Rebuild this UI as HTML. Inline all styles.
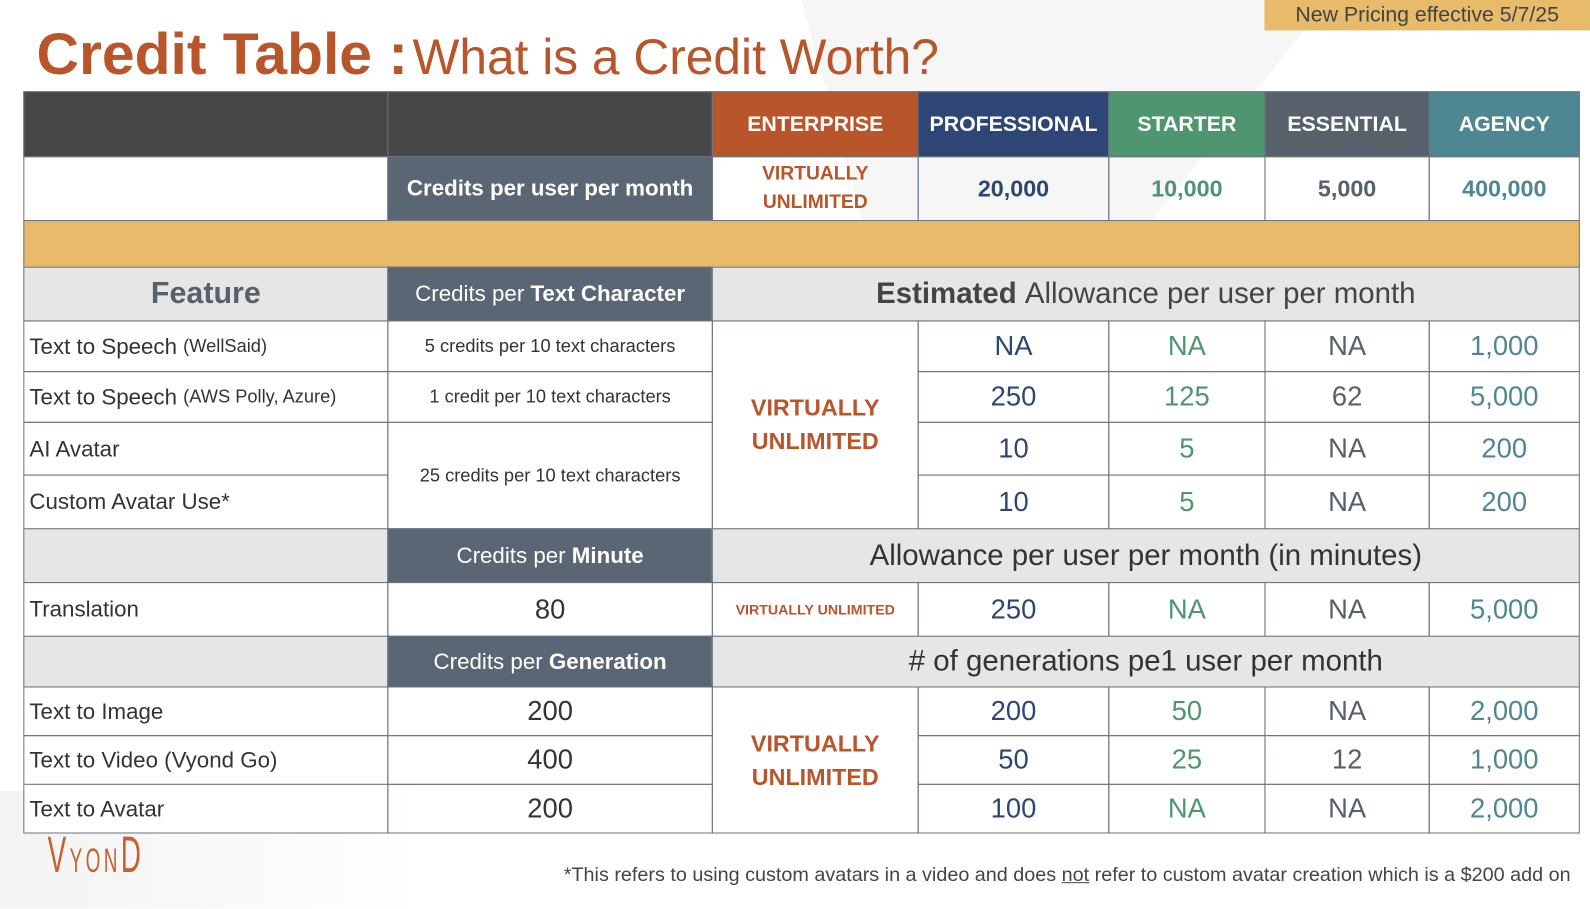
<!DOCTYPE html>
<html><head><meta charset="utf-8"><style>
body{margin:0;width:1590px;height:896px;background:#fff;position:relative;overflow:hidden;font-family:"Liberation Sans",Arial,sans-serif;}
#w{position:absolute;left:0;top:0;width:1568px;height:884px;transform:scale(1.014);transform-origin:0 0;}
.c{position:absolute;box-sizing:border-box;display:flex;align-items:center;justify-content:center;text-align:center;border:1px solid #69737d;}
.l{justify-content:flex-start;padding-left:5px;}
.h{color:#fff;font-weight:bold;font-size:21px;}
.g{background:#e6e6e6;}
.s{background:#5a6673;color:#fff;}
.bg{position:absolute;}
</style></head><body><div id="w">
<div class="bg" style="left:790px;top:0;width:520px;height:260px;background:#f6f6f6;clip-path:polygon(0 0,100% 0,60% 100%,14% 100%)"></div>
<div class="bg" style="left:0;top:780px;width:420px;height:116px;background:linear-gradient(90deg,#f3f3f3,#fff)"></div>
<div class="bg" style="left:1247px;top:0;width:321px;height:30px;background:#e8bb6a;color:#444;font-size:21px;line-height:29px;text-align:center;box-sizing:border-box">New Pricing effective 5/7/25</div>
<div class="bg" style="left:36px;top:20px;color:#b9552a;white-space:nowrap"><span style="font-size:58px;font-weight:bold">Credit Table :</span> <span style="font-size:49px">What is a Credit Worth?</span></div>

<div class="c" style="left:23px;top:90px;width:360px;height:65px;background:#474747"></div>
<div class="c" style="left:382px;top:90px;width:321px;height:65px;background:#474747"></div>
<div class="c h" style="left:702px;top:90px;width:204px;height:65px;background:#b9552a">ENTERPRISE</div>
<div class="c h" style="left:905px;top:90px;width:189px;height:65px;background:#2e4676">PROFESSIONAL</div>
<div class="c h" style="left:1093px;top:90px;width:155px;height:65px;background:#4e9670">STARTER</div>
<div class="c h" style="left:1247px;top:90px;width:163px;height:65px;background:#56616c">ESSENTIAL</div>
<div class="c h" style="left:1409px;top:90px;width:149px;height:65px;background:#4e8792">AGENCY</div>

<div class="c" style="left:23px;top:154px;width:360px;height:64px"></div>
<div class="c s" style="left:382px;top:154px;width:321px;height:64px;font-weight:bold;font-size:22px">Credits per user per month</div>
<div class="c" style="left:702px;top:154px;width:204px;height:64px;color:#b9552a;font-weight:bold;font-size:19px;line-height:28px">VIRTUALLY<br>UNLIMITED</div>
<div class="c" style="left:905px;top:154px;width:189px;height:64px;color:#2e4676;font-weight:bold;font-size:23px">20,000</div>
<div class="c" style="left:1093px;top:154px;width:155px;height:64px;color:#4e9670;font-weight:bold;font-size:23px">10,000</div>
<div class="c" style="left:1247px;top:154px;width:163px;height:64px;color:#56616c;font-weight:bold;font-size:23px">5,000</div>
<div class="c" style="left:1409px;top:154px;width:149px;height:64px;color:#4e8792;font-weight:bold;font-size:23px">400,000</div>

<div class="c" style="left:23px;top:217px;width:1535px;height:47px;background:#e8bb6a"></div>

<div class="c g" style="left:23px;top:263px;width:360px;height:54px;color:#56616c;font-weight:bold;font-size:30px">Feature</div>
<div class="c s" style="left:382px;top:263px;width:321px;height:54px;font-size:22px">Credits per&nbsp;<b>Text Character</b></div>
<div class="c g" style="left:702px;top:263px;width:856px;height:54px;color:#444;font-size:29px"><b>Estimated</b>&nbsp;Allowance per user per month</div>

<div class="c l" style="left:23px;top:316px;width:360px;height:51px;font-size:22px;color:#333">Text to Speech&nbsp;<span style="font-size:18px">(WellSaid)</span></div>
<div class="c l" style="left:23px;top:366px;width:360px;height:51px;font-size:22px;color:#333">Text to Speech&nbsp;<span style="font-size:18px">(AWS Polly, Azure)</span></div>
<div class="c l" style="left:23px;top:416px;width:360px;height:53px;font-size:22px;color:#333">AI Avatar</div>
<div class="c l" style="left:23px;top:468px;width:360px;height:54px;font-size:22px;color:#333">Custom Avatar Use*</div>
<div class="c" style="left:382px;top:316px;width:321px;height:51px;font-size:18px;color:#333">5 credits per 10 text characters</div>
<div class="c" style="left:382px;top:366px;width:321px;height:51px;font-size:18px;color:#333">1 credit per 10 text characters</div>
<div class="c" style="left:382px;top:416px;width:321px;height:106px;font-size:18px;color:#333">25 credits per 10 text characters</div>
<div class="c" style="left:702px;top:316px;width:204px;height:206px;color:#b9552a;font-weight:bold;font-size:23px;line-height:33px">VIRTUALLY<br>UNLIMITED</div>

<div class="c" style="left:905px;top:316px;width:189px;height:51px;font-size:27px;color:#2e4676">NA</div>
<div class="c" style="left:1093px;top:316px;width:155px;height:51px;font-size:27px;color:#4e9670">NA</div>
<div class="c" style="left:1247px;top:316px;width:163px;height:51px;font-size:27px;color:#56616c">NA</div>
<div class="c" style="left:1409px;top:316px;width:149px;height:51px;font-size:27px;color:#4e8792">1,000</div>
<div class="c" style="left:905px;top:366px;width:189px;height:51px;font-size:27px;color:#2e4676">250</div>
<div class="c" style="left:1093px;top:366px;width:155px;height:51px;font-size:27px;color:#4e9670">125</div>
<div class="c" style="left:1247px;top:366px;width:163px;height:51px;font-size:27px;color:#56616c">62</div>
<div class="c" style="left:1409px;top:366px;width:149px;height:51px;font-size:27px;color:#4e8792">5,000</div>
<div class="c" style="left:905px;top:416px;width:189px;height:53px;font-size:27px;color:#2e4676">10</div>
<div class="c" style="left:1093px;top:416px;width:155px;height:53px;font-size:27px;color:#4e9670">5</div>
<div class="c" style="left:1247px;top:416px;width:163px;height:53px;font-size:27px;color:#56616c">NA</div>
<div class="c" style="left:1409px;top:416px;width:149px;height:53px;font-size:27px;color:#4e8792">200</div>
<div class="c" style="left:905px;top:468px;width:189px;height:54px;font-size:27px;color:#2e4676">10</div>
<div class="c" style="left:1093px;top:468px;width:155px;height:54px;font-size:27px;color:#4e9670">5</div>
<div class="c" style="left:1247px;top:468px;width:163px;height:54px;font-size:27px;color:#56616c">NA</div>
<div class="c" style="left:1409px;top:468px;width:149px;height:54px;font-size:27px;color:#4e8792">200</div>

<div class="c g" style="left:23px;top:521px;width:360px;height:54px"></div>
<div class="c s" style="left:382px;top:521px;width:321px;height:54px;font-size:22px">Credits per&nbsp;<b>Minute</b></div>
<div class="c g" style="left:702px;top:521px;width:856px;height:54px;color:#333;font-size:29px">Allowance per user per month (in minutes)</div>
<div class="c l" style="left:23px;top:574px;width:360px;height:54px;font-size:22px;color:#333">Translation</div>
<div class="c" style="left:382px;top:574px;width:321px;height:54px;font-size:27px;color:#333">80</div>
<div class="c" style="left:702px;top:574px;width:204px;height:54px;color:#b9552a;font-weight:bold;font-size:14px">VIRTUALLY UNLIMITED</div>
<div class="c" style="left:905px;top:574px;width:189px;height:54px;font-size:27px;color:#2e4676">250</div>
<div class="c" style="left:1093px;top:574px;width:155px;height:54px;font-size:27px;color:#4e9670">NA</div>
<div class="c" style="left:1247px;top:574px;width:163px;height:54px;font-size:27px;color:#56616c">NA</div>
<div class="c" style="left:1409px;top:574px;width:149px;height:54px;font-size:27px;color:#4e8792">5,000</div>

<div class="c g" style="left:23px;top:627px;width:360px;height:51px"></div>
<div class="c s" style="left:382px;top:627px;width:321px;height:51px;font-size:22px">Credits per&nbsp;<b>Generation</b></div>
<div class="c g" style="left:702px;top:627px;width:856px;height:51px;color:#333;font-size:29px"># of generations pe1 user per month</div>
<div class="c l" style="left:23px;top:677px;width:360px;height:49px;font-size:22px;color:#333">Text to Image</div>
<div class="c l" style="left:23px;top:725px;width:360px;height:49px;font-size:22px;color:#333">Text to Video (Vyond Go)</div>
<div class="c l" style="left:23px;top:773px;width:360px;height:49px;font-size:22px;color:#333;background:#fff">Text to Avatar</div>
<div class="c" style="left:382px;top:677px;width:321px;height:49px;font-size:27px;color:#333">200</div>
<div class="c" style="left:382px;top:725px;width:321px;height:49px;font-size:27px;color:#333">400</div>
<div class="c" style="left:382px;top:773px;width:321px;height:49px;font-size:27px;color:#333">200</div>
<div class="c" style="left:702px;top:677px;width:204px;height:145px;color:#b9552a;font-weight:bold;font-size:23px;line-height:33px">VIRTUALLY<br>UNLIMITED</div>
<div class="c" style="left:905px;top:677px;width:189px;height:49px;font-size:27px;color:#2e4676">200</div>
<div class="c" style="left:1093px;top:677px;width:155px;height:49px;font-size:27px;color:#4e9670">50</div>
<div class="c" style="left:1247px;top:677px;width:163px;height:49px;font-size:27px;color:#56616c">NA</div>
<div class="c" style="left:1409px;top:677px;width:149px;height:49px;font-size:27px;color:#4e8792">2,000</div>
<div class="c" style="left:905px;top:725px;width:189px;height:49px;font-size:27px;color:#2e4676">50</div>
<div class="c" style="left:1093px;top:725px;width:155px;height:49px;font-size:27px;color:#4e9670">25</div>
<div class="c" style="left:1247px;top:725px;width:163px;height:49px;font-size:27px;color:#56616c">12</div>
<div class="c" style="left:1409px;top:725px;width:149px;height:49px;font-size:27px;color:#4e8792">1,000</div>
<div class="c" style="left:905px;top:773px;width:189px;height:49px;font-size:27px;color:#2e4676">100</div>
<div class="c" style="left:1093px;top:773px;width:155px;height:49px;font-size:27px;color:#4e9670">NA</div>
<div class="c" style="left:1247px;top:773px;width:163px;height:49px;font-size:27px;color:#56616c">NA</div>
<div class="c" style="left:1409px;top:773px;width:149px;height:49px;font-size:27px;color:#4e8792">2,000</div>

<div class="bg" style="left:47px;top:814px;color:#c8612f;font-size:50px;letter-spacing:6px;transform:scaleX(0.55);transform-origin:left;white-space:nowrap">V<span style="font-size:34px">YON</span>D</div>
<div class="bg" style="left:556px;top:852px;font-size:19.5px;color:#444;white-space:nowrap">*This refers to using custom avatars in a video and does <u>not</u> refer to custom avatar creation which is a $200 add on</div>
</div></body></html>
